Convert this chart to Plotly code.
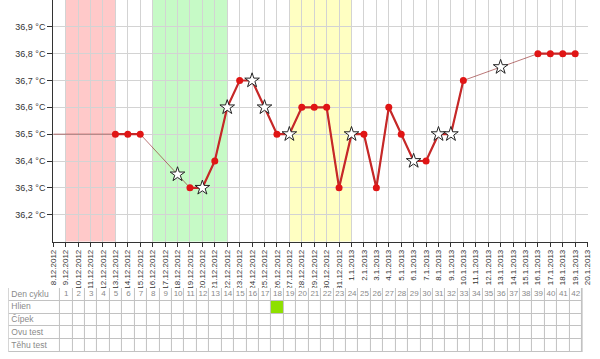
import plotly.graph_objects as go

# ---------------- data ----------------
dates = ["8.12.2012", "9.12.2012", "10.12.2012", "11.12.2012", "12.12.2012", "13.12.2012",
         "14.12.2012", "15.12.2012", "16.12.2012", "17.12.2012", "18.12.2012", "19.12.2012",
         "20.12.2012", "21.12.2012", "22.12.2012", "23.12.2012", "24.12.2012", "25.12.2012",
         "26.12.2012", "27.12.2012", "28.12.2012", "29.12.2012", "30.12.2012", "31.12.2012",
         "1.1.2013", "2.1.2013", "3.1.2013", "4.1.2013", "5.1.2013", "6.1.2013", "7.1.2013",
         "8.1.2013", "9.1.2013", "10.1.2013", "11.1.2013", "12.1.2013", "13.1.2013",
         "14.1.2013", "15.1.2013", "16.1.2013", "17.1.2013", "18.1.2013", "19.1.2013",
         "20.1.2013"]

temps = [36.5, None, None, None, None, 36.5,
         36.5, 36.5, None, None, 36.35, 36.3,
         36.3, 36.4, 36.6, 36.7, 36.7, 36.6,
         36.5, 36.5, 36.6, 36.6, 36.6, 36.3,
         36.5, 36.5, 36.3, 36.6, 36.5, 36.4, 36.4,
         36.5, 36.5, 36.7, None, None, 36.75,
         None, None, 36.8, 36.8, 36.8, 36.8,
         None]

# measurements drawn as stars (others as dots)
star_dates = ["18.12.2012", "20.12.2012", "22.12.2012", "24.12.2012", "25.12.2012",
              "27.12.2012", "1.1.2013", "6.1.2013", "8.1.2013", "9.1.2013", "13.1.2013"]
# measurements shown only with the thin connecting line (no marker)
no_marker_dates = ["8.12.2012"]
# measurements not part of the bold curve
thin_only_dates = ["8.12.2012", "18.12.2012", "13.1.2013"]

period_band = ("9.12.2012", "13.12.2012")
fertile_band = ("16.12.2012", "22.12.2012")
yellow_band = ("27.12.2012", "1.1.2013")

y_ticks = [36.2, 36.3, 36.4, 36.5, 36.6, 36.7, 36.8, 36.9]
y_tick_labels = ["36,2 °C", "36,3 °C", "36,4 °C", "36,5 °C", "36,6 °C", "36,7 °C", "36,8 °C", "36,9 °C"]

table_rows = ["Den cyklu", "Hlien", "Čípek", "Ovu test", "Těhu test"]
cycle_days = [1, 2, 3, 4, 5, 6, 7, 8, 9, 10, 11, 12, 13, 14, 15, 16, 17, 18, 19, 20, 21,
              22, 23, 24, 25, 26, 27, 28, 29, 30, 31, 32, 33, 34, 35, 36, 37, 38, 39, 40, 41, 42]
hlien_days = [18]

# ---------------- derived ----------------
xi = list(range(len(dates)))
pos = {d: i for i, d in enumerate(dates)}
# cycle day d is centered at date index d (day 1 = 9.12.2012)

thin_x = [i for i in xi if temps[i] is not None]
thin_y = [temps[i] for i in thin_x]

thick_y = [None if (t is None or dates[i] in thin_only_dates) else t for i, t in enumerate(temps)]

dot_x = [i for i in xi if temps[i] is not None and dates[i] not in star_dates and dates[i] not in no_marker_dates]
dot_y = [temps[i] for i in dot_x]
star_x = [pos[d] for d in star_dates]
star_y = [temps[i] for i in star_x]

fig = go.Figure()

fig.add_trace(go.Scatter(x=thin_x, y=thin_y, mode="lines",
                         line=dict(color="rgba(140,30,30,0.6)", width=1),
                         hoverinfo="skip"))
fig.add_trace(go.Scatter(x=xi, y=thick_y, mode="lines", connectgaps=False,
                         line=dict(color="#c62828", width=2.2), hoverinfo="skip"))
fig.add_trace(go.Scatter(x=dot_x, y=dot_y, mode="markers",
                         marker=dict(symbol="circle", size=7, color="#e01515",
                                     line=dict(width=0)), hoverinfo="skip"))
fig.add_trace(go.Scatter(x=star_x, y=star_y, mode="markers",
                         marker=dict(symbol="star", size=11, color="white",
                                     line=dict(color="#222", width=1)), hoverinfo="skip"))

shapes = []
for (a, b), col in [(period_band, "#ffc9c9"), (fertile_band, "#c6fac6"), (yellow_band, "#ffffc2")]:
    shapes.append(dict(type="rect", xref="x", yref="y domain", x0=pos[a], x1=pos[b],
                       y0=0, y1=1, fillcolor=col, line=dict(width=0), layer="below"))

# ---------------- table ----------------
label_left = -3.57
edges = [label_left] + [0.55 + k for k in range(len(cycle_days) + 1)]
z = []
for r, name in enumerate(table_rows):
    row = [0] * (len(cycle_days) + 1)
    if name == "Hlien":
        for d in hlien_days:
            row[cycle_days.index(d) + 1] = 1
    z.append(row)

shapes.append(dict(type="rect", xref="x2", yref="y2", x0=edges[0] - 0.05, x1=edges[-1] + 0.05,
                   y0=-0.53, y1=4.53, fillcolor="#c2c2c2", line=dict(width=0), layer="below"))

fig.add_trace(go.Heatmap(x=edges, y=list(range(len(table_rows))), z=z,
                         xaxis="x2", yaxis="y2", zmin=0, zmax=1,
                         colorscale=[[0, "white"], [0.5, "white"], [0.5, "#8ee000"], [1, "#8ee000"]],
                         showscale=False, xgap=1, ygap=1, hoverinfo="skip"))

fig.add_trace(go.Scatter(x=[d + 0.05 for d in cycle_days], y=[0] * len(cycle_days),
                         text=[str(d) for d in cycle_days], mode="text",
                         textfont=dict(size=8, color="#8a8a8a", family="Arial, Liberation Sans"),
                         xaxis="x2", yaxis="y2", hoverinfo="skip"))
fig.add_trace(go.Scatter(x=[label_left + 0.2] * len(table_rows), y=list(range(len(table_rows))),
                         text=table_rows, mode="text", textposition="middle right",
                         textfont=dict(size=8.5, color="#8a8a8a", family="Arial, Liberation Sans"),
                         xaxis="x2", yaxis="y2", hoverinfo="skip"))

spacing = (592.5 - 50) / 43

fig.update_layout(
    width=600, height=359,
    margin=dict(l=0, r=0, t=0, b=0),
    paper_bgcolor="white", plot_bgcolor="white",
    showlegend=False,
    shapes=shapes,
    font=dict(family="Arial, Liberation Sans", color="#333"),
    xaxis=dict(domain=[50 / 600, 592.5 / 600], range=[0, 43],
               tickmode="array", tickvals=xi, ticktext=dates, tickangle=-90,
               tickfont=dict(size=8, color="#333"),
               ticks="outside", ticklen=4, tickcolor="#333",
               showline=True, linecolor="#333", linewidth=1,
               showgrid=True, gridcolor="#d3d3d3", gridwidth=1, zeroline=False,
               fixedrange=True, anchor="y"),
    yaxis=dict(domain=[(359 - 241.5) / 359, 1], range=[36.1, 37.0],
               tickmode="array", tickvals=y_ticks, ticktext=y_tick_labels,
               tickfont=dict(size=9, color="#333"),
               ticks="outside", ticklen=5, tickcolor="#333",
               showline=True, linecolor="#333", linewidth=1,
               showgrid=True, gridcolor="#d3d3d3", gridwidth=1, zeroline=False,
               fixedrange=True, anchor="x"),
    xaxis2=dict(domain=[0, 1], range=[-50 / spacing, 550 / spacing], visible=False,
                anchor="y2", fixedrange=True),
    yaxis2=dict(domain=[7 / 359, 71 / 359], range=[4.5, -0.5], visible=False,
                anchor="x2", fixedrange=True),
)

fig.write_html("out.html", config={"displayModeBar": False},
               post_script="document.body.style.margin='0';document.body.style.overflow='hidden';")
